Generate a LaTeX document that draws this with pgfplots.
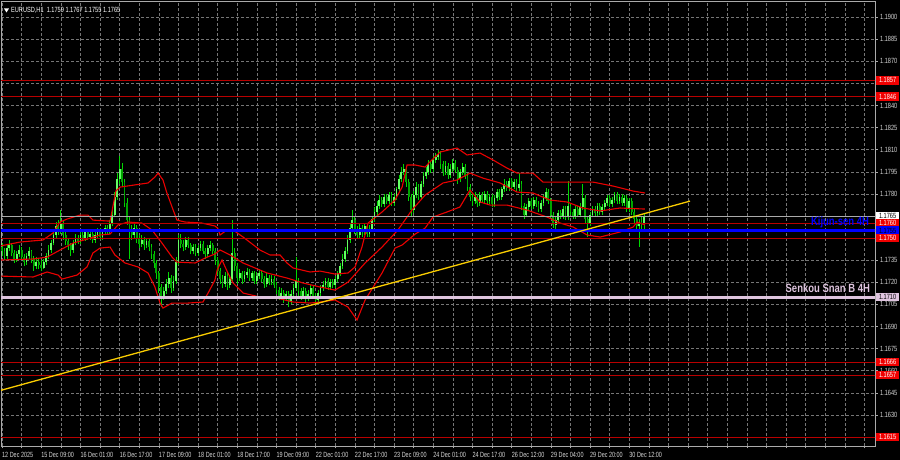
\documentclass[border=0pt]{standalone}
\usepackage{fontspec}
\setmainfont{Liberation Sans}
\usepackage{pgfplots}
\usepackage{pgfplotstable}
\pgfplotsset{compat=1.18}
\definecolor{gridc}{RGB}{118,118,118}
\definecolor{framec}{RGB}{170,170,170}
\definecolor{labc}{RGB}{215,215,215}
\definecolor{wickc}{RGB}{0,215,0}
\definecolor{bullc}{RGB}{100,255,100}
\definecolor{bearc}{RGB}{0,165,0}
\definecolor{bandc}{RGB}{235,0,0}
\definecolor{lvred}{RGB}{185,0,0}
\definecolor{boxred}{RGB}{240,0,0}
\definecolor{kijun}{RGB}{0,0,255}
\definecolor{senkou}{RGB}{222,196,222}
\definecolor{lvgray}{RGB}{170,170,170}
\definecolor{trendc}{RGB}{250,205,0}
\newcommand\ticfont{\fontsize{7.5}{8}\selectfont}

\pgfplotstableread{
i o h l c
0 1.1744 1.1747 1.1738 1.1741
1 1.1741 1.1743 1.1735 1.1738
2 1.1738 1.1745 1.1736 1.1743
3 1.1743 1.1749 1.1741 1.1745
4 1.1745 1.1747 1.1738 1.1740
5 1.1740 1.1742 1.1733 1.1736
6 1.1736 1.1741 1.1734 1.1739
7 1.1739 1.1745 1.1737 1.1742
8 1.1742 1.1744 1.1735 1.1737
9 1.1737 1.1739 1.1731 1.1734
10 1.1734 1.1740 1.1732 1.1738
11 1.1738 1.1744 1.1736 1.1741
12 1.1741 1.1742 1.1733 1.1736
13 1.1736 1.1738 1.1728 1.1731
14 1.1731 1.1737 1.1729 1.1734
15 1.1734 1.1736 1.1729 1.1732
16 1.1732 1.1735 1.1728 1.1730
17 1.1730 1.1736 1.1729 1.1734
18 1.1734 1.1740 1.1732 1.1738
19 1.1738 1.1745 1.1736 1.1742
20 1.1742 1.1749 1.1740 1.1747
21 1.1747 1.1755 1.1745 1.1752
22 1.1752 1.1761 1.1750 1.1758
23 1.1758 1.1762 1.1752 1.1755
24 1.1755 1.1769 1.1753 1.1760
25 1.1760 1.1762 1.1749 1.1752
26 1.1752 1.1754 1.1745 1.1748
27 1.1748 1.1750 1.1742 1.1745
28 1.1745 1.1747 1.1738 1.1742
29 1.1742 1.1749 1.1740 1.1747
30 1.1747 1.1753 1.1745 1.1750
31 1.1750 1.1752 1.1746 1.1748
32 1.1748 1.1754 1.1746 1.1752
33 1.1752 1.1755 1.1748 1.1750
34 1.1750 1.1756 1.1748 1.1754
35 1.1754 1.1756 1.1749 1.1751
36 1.1751 1.1755 1.1749 1.1753
37 1.1753 1.1755 1.1747 1.1749
38 1.1749 1.1754 1.1747 1.1752
39 1.1752 1.1757 1.1750 1.1755
40 1.1755 1.1757 1.1749 1.1751
41 1.1751 1.1756 1.1749 1.1754
42 1.1754 1.1759 1.1752 1.1757
43 1.1757 1.1759 1.1752 1.1755
44 1.1755 1.1762 1.1753 1.1760
45 1.1760 1.1769 1.1758 1.1766
46 1.1766 1.1781 1.1764 1.1778
47 1.1778 1.1794 1.1776 1.1790
48 1.1790 1.1806 1.1787 1.1797
49 1.1797 1.1801 1.1785 1.1788
50 1.1788 1.1790 1.1771 1.1774
51 1.1774 1.1777 1.1759 1.1762
52 1.1762 1.1765 1.1736 1.1756
53 1.1756 1.1759 1.1749 1.1752
54 1.1752 1.1760 1.1750 1.1757
55 1.1757 1.1759 1.1747 1.1750
56 1.1750 1.1752 1.1743 1.1746
57 1.1746 1.1752 1.1744 1.1749
58 1.1749 1.1751 1.1742 1.1745
59 1.1745 1.1750 1.1743 1.1748
60 1.1748 1.1750 1.1741 1.1744
61 1.1744 1.1746 1.1736 1.1739
62 1.1739 1.1741 1.1730 1.1733
63 1.1733 1.1735 1.1722 1.1726
64 1.1726 1.1728 1.1713 1.1717
65 1.1717 1.1719 1.1703 1.1711
66 1.1711 1.1717 1.1708 1.1714
67 1.1714 1.1722 1.1712 1.1719
68 1.1719 1.1727 1.1716 1.1723
69 1.1723 1.1725 1.1713 1.1716
70 1.1716 1.1724 1.1714 1.1721
71 1.1721 1.1737 1.1719 1.1734
72 1.1734 1.1752 1.1732 1.1749
73 1.1749 1.1753 1.1743 1.1746
74 1.1746 1.1749 1.1741 1.1744
75 1.1744 1.1751 1.1742 1.1749
76 1.1749 1.1751 1.1743 1.1745
77 1.1745 1.1747 1.1739 1.1741
78 1.1741 1.1746 1.1739 1.1744
79 1.1744 1.1746 1.1738 1.1740
80 1.1740 1.1745 1.1738 1.1743
81 1.1743 1.1748 1.1741 1.1746
82 1.1746 1.1748 1.1739 1.1741
83 1.1741 1.1743 1.1736 1.1739
84 1.1739 1.1745 1.1737 1.1743
85 1.1743 1.1748 1.1741 1.1745
86 1.1745 1.1747 1.1739 1.1741
87 1.1741 1.1743 1.1732 1.1735
88 1.1735 1.1737 1.1725 1.1728
89 1.1728 1.1730 1.1719 1.1722
90 1.1722 1.1725 1.1716 1.1719
91 1.1719 1.1727 1.1717 1.1724
92 1.1724 1.1726 1.1715 1.1718
93 1.1718 1.1725 1.1716 1.1722
94 1.1722 1.1762 1.1720 1.1740
95 1.1740 1.1743 1.1728 1.1731
96 1.1731 1.1733 1.1719 1.1723
97 1.1723 1.1729 1.1721 1.1726
98 1.1726 1.1728 1.1719 1.1722
99 1.1722 1.1728 1.1720 1.1725
100 1.1725 1.1730 1.1723 1.1727
101 1.1727 1.1729 1.1721 1.1723
102 1.1723 1.1728 1.1721 1.1726
103 1.1726 1.1728 1.1719 1.1721
104 1.1721 1.1727 1.1719 1.1724
105 1.1724 1.1729 1.1722 1.1726
106 1.1726 1.1728 1.1720 1.1722
107 1.1722 1.1724 1.1716 1.1719
108 1.1719 1.1726 1.1717 1.1723
109 1.1723 1.1725 1.1718 1.1720
110 1.1720 1.1725 1.1718 1.1722
111 1.1722 1.1724 1.1716 1.1718
112 1.1718 1.1720 1.1712 1.1715
113 1.1715 1.1717 1.1708 1.1711
114 1.1711 1.1716 1.1709 1.1713
115 1.1713 1.1715 1.1706 1.1709
116 1.1709 1.1714 1.1707 1.1712
117 1.1712 1.1714 1.1703 1.1707
118 1.1707 1.1715 1.1705 1.1712
119 1.1712 1.1719 1.1710 1.1716
120 1.1716 1.1737 1.1714 1.1721
121 1.1721 1.1723 1.1711 1.1714
122 1.1714 1.1716 1.1708 1.1711
123 1.1711 1.1717 1.1709 1.1714
124 1.1714 1.1716 1.1706 1.1709
125 1.1709 1.1715 1.1707 1.1712
126 1.1712 1.1718 1.1710 1.1716
127 1.1716 1.1718 1.1709 1.1711
128 1.1711 1.1713 1.1705 1.1708
129 1.1708 1.1715 1.1706 1.1713
130 1.1713 1.1718 1.1711 1.1716
131 1.1716 1.1721 1.1714 1.1718
132 1.1718 1.1723 1.1716 1.1721
133 1.1721 1.1723 1.1715 1.1717
134 1.1717 1.1722 1.1715 1.1720
135 1.1720 1.1722 1.1716 1.1718
136 1.1718 1.1724 1.1716 1.1722
137 1.1722 1.1728 1.1720 1.1726
138 1.1726 1.1733 1.1724 1.1731
139 1.1731 1.1739 1.1729 1.1736
140 1.1736 1.1744 1.1734 1.1741
141 1.1741 1.1752 1.1739 1.1749
142 1.1749 1.1760 1.1747 1.1757
143 1.1757 1.1769 1.1755 1.1762
144 1.1762 1.1764 1.1753 1.1756
145 1.1756 1.1758 1.1750 1.1752
146 1.1752 1.1760 1.1750 1.1757
147 1.1757 1.1759 1.1751 1.1754
148 1.1754 1.1760 1.1752 1.1758
149 1.1758 1.1760 1.1751 1.1753
150 1.1753 1.1759 1.1751 1.1756
151 1.1756 1.1765 1.1754 1.1763
152 1.1763 1.1771 1.1761 1.1768
153 1.1768 1.1775 1.1766 1.1772
154 1.1772 1.1779 1.1770 1.1776
155 1.1776 1.1778 1.1771 1.1773
156 1.1773 1.1780 1.1771 1.1778
157 1.1778 1.1780 1.1773 1.1775
158 1.1775 1.1781 1.1773 1.1779
159 1.1779 1.1781 1.1772 1.1774
160 1.1774 1.1780 1.1772 1.1778
161 1.1778 1.1785 1.1776 1.1783
162 1.1783 1.1793 1.1781 1.1790
163 1.1790 1.1798 1.1788 1.1795
164 1.1795 1.1800 1.1793 1.1797
165 1.1797 1.1799 1.1785 1.1788
166 1.1788 1.1790 1.1775 1.1778
167 1.1778 1.1780 1.1764 1.1769
168 1.1769 1.1782 1.1767 1.1779
169 1.1779 1.1788 1.1777 1.1785
170 1.1785 1.1787 1.1776 1.1778
171 1.1778 1.1789 1.1776 1.1787
172 1.1787 1.1795 1.1785 1.1792
173 1.1792 1.1798 1.1790 1.1795
174 1.1795 1.1803 1.1793 1.1800
175 1.1800 1.1802 1.1794 1.1797
176 1.1797 1.1806 1.1795 1.1803
177 1.1803 1.1808 1.1801 1.1805
178 1.1805 1.1810 1.1803 1.1807
179 1.1807 1.1809 1.1797 1.1800
180 1.1800 1.1802 1.1792 1.1795
181 1.1795 1.1802 1.1793 1.1799
182 1.1799 1.1801 1.1790 1.1793
183 1.1793 1.1800 1.1791 1.1797
184 1.1797 1.1804 1.1795 1.1801
185 1.1801 1.1803 1.1794 1.1796
186 1.1796 1.1798 1.1787 1.1790
187 1.1790 1.1797 1.1788 1.1795
188 1.1795 1.1801 1.1793 1.1798
189 1.1798 1.1800 1.1790 1.1792
190 1.1792 1.1794 1.1782 1.1785
191 1.1785 1.1787 1.1775 1.1778
192 1.1778 1.1780 1.1772 1.1775
193 1.1775 1.1781 1.1773 1.1778
194 1.1778 1.1780 1.1771 1.1774
195 1.1774 1.1781 1.1772 1.1779
196 1.1779 1.1781 1.1774 1.1776
197 1.1776 1.1782 1.1774 1.1780
198 1.1780 1.1782 1.1773 1.1775
199 1.1775 1.1780 1.1773 1.1778
200 1.1778 1.1780 1.1771 1.1773
201 1.1773 1.1779 1.1771 1.1777
202 1.1777 1.1783 1.1775 1.1781
203 1.1781 1.1783 1.1776 1.1778
204 1.1778 1.1785 1.1776 1.1783
205 1.1783 1.1790 1.1781 1.1787
206 1.1787 1.1789 1.1782 1.1784
207 1.1784 1.1791 1.1782 1.1789
208 1.1789 1.1791 1.1783 1.1785
209 1.1785 1.1790 1.1783 1.1788
210 1.1788 1.1790 1.1782 1.1784
211 1.1784 1.1794 1.1782 1.1787
212 1.1787 1.1789 1.1769 1.1772
213 1.1772 1.1774 1.1763 1.1766
214 1.1766 1.1773 1.1764 1.1771
215 1.1771 1.1777 1.1769 1.1775
216 1.1775 1.1777 1.1770 1.1772
217 1.1772 1.1778 1.1770 1.1776
218 1.1776 1.1778 1.1771 1.1773
219 1.1773 1.1775 1.1768 1.1770
220 1.1770 1.1776 1.1768 1.1774
221 1.1774 1.1779 1.1772 1.1777
222 1.1777 1.1784 1.1775 1.1781
223 1.1781 1.1783 1.1773 1.1775
224 1.1775 1.1777 1.1763 1.1766
225 1.1766 1.1768 1.1757 1.1759
226 1.1759 1.1764 1.1755 1.1762
227 1.1762 1.1769 1.1760 1.1767
228 1.1767 1.1769 1.1763 1.1765
229 1.1765 1.1772 1.1763 1.1770
230 1.1770 1.1772 1.1762 1.1764
231 1.1764 1.1789 1.1762 1.1772
232 1.1772 1.1774 1.1766 1.1768
233 1.1768 1.1770 1.1763 1.1765
234 1.1765 1.1772 1.1763 1.1770
235 1.1770 1.1772 1.1764 1.1766
236 1.1766 1.1774 1.1764 1.1771
237 1.1771 1.1787 1.1769 1.1777
238 1.1777 1.1779 1.1760 1.1763
239 1.1763 1.1765 1.1751 1.1760
240 1.1760 1.1768 1.1758 1.1766
241 1.1766 1.1772 1.1764 1.1770
242 1.1770 1.1772 1.1765 1.1767
243 1.1767 1.1774 1.1765 1.1772
244 1.1772 1.1774 1.1766 1.1768
245 1.1768 1.1773 1.1766 1.1771
246 1.1771 1.1776 1.1769 1.1774
247 1.1774 1.1779 1.1772 1.1777
248 1.1777 1.1779 1.1771 1.1773
249 1.1773 1.1778 1.1771 1.1776
250 1.1776 1.1781 1.1774 1.1779
251 1.1779 1.1781 1.1773 1.1775
252 1.1775 1.1780 1.1773 1.1778
253 1.1778 1.1780 1.1772 1.1774
254 1.1774 1.1779 1.1772 1.1777
255 1.1777 1.1779 1.1768 1.1770
256 1.1770 1.1777 1.1768 1.1775
257 1.1775 1.1777 1.1766 1.1768
258 1.1768 1.1770 1.1760 1.1763
259 1.1763 1.1765 1.1756 1.1758
260 1.1758 1.1763 1.1744 1.1761
261 1.1761 1.1764 1.1756 1.1759
262 1.1759 1.1767 1.1755 1.1765
}\candles

\pgfplotstableread{
i p
-0.8 1.17446
7.3 1.17473
16.7 1.17487
20.8 1.17534
23.7 1.17609
26.5 1.17629
31.8 1.17656
35.1 1.17656
37.1 1.17622
44.1 1.17615
46.5 1.17820
48.2 1.17846
59.6 1.17874
62.4 1.17914
63.7 1.17941
65.7 1.17894
67.3 1.17806
69.4 1.17711
71.4 1.17622
74.7 1.17609
81.6 1.17602
86.9 1.17582
88.0 1.17568
89.0 1.17521
91.8 1.17555
94.3 1.17555
98.4 1.17507
105.3 1.17419
109.4 1.17385
113.5 1.17385
116.3 1.17331
118.8 1.17297
125.7 1.17270
129.8 1.17276
135.9 1.17256
141.2 1.17263
144.1 1.17304
146.9 1.17439
149.4 1.17602
155.1 1.17677
160.4 1.17758
163.3 1.17846
165.3 1.17996
168.6 1.17996
172.7 1.17982
175.0 1.18023
178.8 1.18084
185.7 1.18111
189.8 1.18064
195.1 1.18077
200.4 1.18030
206.1 1.17975
210.2 1.17941
216.7 1.17941
220.8 1.17880
230.6 1.17880
241.2 1.17880
249.4 1.17853
257.6 1.17819
262.4 1.17806
}\bbup

\pgfplotstableread{
i p
-0.8 1.17351
12.7 1.17358
18.4 1.17371
23.7 1.17419
29.0 1.17466
34.7 1.17493
40.0 1.17521
44.1 1.17527
47.3 1.17589
51.4 1.17609
57.1 1.17602
61.2 1.17555
65.3 1.17466
69.4 1.17371
71.4 1.17337
78.8 1.17331
82.9 1.17365
86.9 1.17392
89.0 1.17419
93.1 1.17385
98.4 1.17331
108.2 1.17263
116.3 1.17229
122.9 1.17195
129.8 1.17168
135.9 1.17147
141.2 1.17201
148.2 1.17331
155.1 1.17439
161.6 1.17555
167.3 1.17690
172.7 1.17792
180.0 1.17874
185.7 1.17894
191.0 1.17941
196.3 1.17907
203.3 1.17874
210.2 1.17812
216.7 1.17806
223.7 1.17758
230.6 1.17745
237.1 1.17704
244.1 1.17684
252.2 1.17704
262.4 1.17697
}\bbmid

\pgfplotstableread{
i p
-0.8 1.17242
12.7 1.17236
18.4 1.17270
22.9 1.17249
24.5 1.17222
30.6 1.17249
34.7 1.17304
37.1 1.17399
40.0 1.17432
44.1 1.17439
46.1 1.17385
50.2 1.17331
55.5 1.17304
59.6 1.17263
62.4 1.17168
64.5 1.17059
65.7 1.17025
69.4 1.17059
75.9 1.17059
82.0 1.17066
84.1 1.17127
86.9 1.17215
87.8 1.17283
89.8 1.17351
92.2 1.17263
94.3 1.17195
98.4 1.17127
105.3 1.17100
112.2 1.17093
118.8 1.17066
125.7 1.17059
129.8 1.17066
135.9 1.17080
141.2 1.17032
144.9 1.16944
148.2 1.17080
155.1 1.17263
160.4 1.17432
163.3 1.17453
168.6 1.17527
172.7 1.17568
175.9 1.17643
181.6 1.17677
186.9 1.17711
191.0 1.17826
195.1 1.17745
199.2 1.17724
206.1 1.17724
214.3 1.17690
222.4 1.17643
227.8 1.17602
233.1 1.17575
238.8 1.17521
244.1 1.17507
252.2 1.17541
257.6 1.17575
259.2 1.17609
262.4 1.17589
}\bblow

\begin{document}
\begin{tikzpicture}[x=1pt,y=1pt]
\fill[black] (0,0) rectangle (900,460);
\begin{axis}[
  at={(1pt,14pt)}, anchor=south west, scale only axis,
  width=874pt, height=445pt,
  xmin=-0.41, xmax=356.3, ymin=1.16089, ymax=1.19109,
  axis line style={framec, line width=0.6pt},
  xtick={0,8,...,352},
  xticklabels={12 Dec 2025,,15 Dec 09:00,,16 Dec 01:00,,16 Dec 17:00,,17 Dec 09:00,,18 Dec 01:00,,18 Dec 17:00,,19 Dec 09:00,,22 Dec 01:00,,22 Dec 17:00,,23 Dec 09:00,,24 Dec 01:00,,24 Dec 17:00,,26 Dec 12:00,,29 Dec 04:00,,29 Dec 20:00,,30 Dec 12:00,{},{},{},{},{},{},{},{},{},{},{},{}},
  ytick={1.1615,1.1630,1.1645,1.1660,1.1675,1.1690,1.1705,1.1720,1.1735,1.1750,1.1765,1.1780,1.1795,1.1810,1.1825,1.1840,1.1855,1.1870,1.1885,1.1900},
  xtick pos=left, ytick pos=right,
  tick align=outside, major tick length=2.5pt,
  tick style={framec, line width=0.5pt},
  grid=major,
  grid style={gridc, line width=0.5pt, dash pattern=on 2.5pt off 2.5pt},
  scaled y ticks=false,
  /pgf/number format/fixed, /pgf/number format/fixed zerofill,
  /pgf/number format/precision=4, /pgf/number format/assume math mode=true,
  yticklabel style={anchor=west, inner sep=0pt, xshift=2.5pt, font=\ticfont, text=labc, xscale=0.75},
  xticklabel style={anchor=north west, inner sep=0pt, yshift=-3.5pt, font=\ticfont, text=labc, xscale=0.73},
  clip=true,
]
% candle wicks
\addplot[draw=none, mark=none, forget plot,
  error bars/.cd, y dir=plus, y explicit, error mark=none,
  error bar style={draw=wickc, line width=0.75pt}]
  table[x=i, y=l, y error expr=\thisrow{h}-\thisrow{l}] {\candles};
% bull bodies
\addplot[draw=none, mark=none, forget plot,
  error bars/.cd, y dir=plus, y explicit, error mark=none,
  error bar style={draw=bullc, line width=1.8pt}]
  table[x=i, y=o, y error expr={max(\thisrow{c}-\thisrow{o},0)}] {\candles};
% bear bodies
\addplot[draw=none, mark=none, forget plot,
  error bars/.cd, y dir=plus, y explicit, error mark=none,
  error bar style={draw=bearc, line width=1.8pt}]
  table[x=i, y=c, y error expr={max(\thisrow{o}-\thisrow{c},0)}] {\candles};
% Bollinger bands
\addplot[bandc, line width=1.1pt, forget plot] table[x=i, y=p] {\bbup};
\addplot[bandc, line width=1.1pt, forget plot] table[x=i, y=p] {\bbmid};
\addplot[bandc, line width=1.1pt, forget plot] table[x=i, y=p] {\bblow};
% levels
\addplot[lvred, line width=0.6pt, forget plot] coordinates {(-5,1.1857) (360,1.1857)};
\addplot[lvred, line width=0.6pt, forget plot] coordinates {(-5,1.1846) (360,1.1846)};
\addplot[lvgray, line width=0.6pt, forget plot] coordinates {(-5,1.1765) (360,1.1765)};
\addplot[lvred, line width=0.6pt, forget plot] coordinates {(-5,1.1760) (360,1.1760)};
\addplot[kijun, line width=3pt, forget plot] coordinates {(-5,1.1755) (360,1.1755)};
\addplot[lvred, line width=0.6pt, forget plot] coordinates {(-5,1.1750) (360,1.1750)};
\addplot[senkou, line width=3pt, forget plot] coordinates {(-5,1.1710) (360,1.1710)};
\addplot[lvred, line width=0.6pt, forget plot] coordinates {(-5,1.1666) (360,1.1666)};
\addplot[lvred, line width=0.6pt, forget plot] coordinates {(-5,1.1657) (360,1.1657)};
\addplot[lvred, line width=0.6pt, forget plot] coordinates {(-5,1.1615) (360,1.1615)};
% trend line
\addplot[trendc, line width=1.3pt, forget plot] coordinates {(-0.41,1.16467) (280.8,1.17751)};
\node[anchor=east, inner sep=0pt, text=kijun, font=\bfseries\fontsize{12}{12}\selectfont, xscale=0.79] at (axis cs:353.9,1.17609) {Kijun-sen 4H};
\node[anchor=east, inner sep=0pt, text=senkou, font=\bfseries\fontsize{12}{12}\selectfont, xscale=0.79] at (axis cs:354.3,1.17161) {Senkou Snan B 4H};
\coordinate (Y1857) at (axis cs:0,1.1857);
\coordinate (Y1846) at (axis cs:0,1.1846);
\coordinate (Y1765) at (axis cs:0,1.1765);
\coordinate (Y1760) at (axis cs:0,1.1760);
\coordinate (Y1755) at (axis cs:0,1.1755);
\coordinate (Y1750) at (axis cs:0,1.1750);
\coordinate (Y1710) at (axis cs:0,1.1710);
\coordinate (Y1666) at (axis cs:0,1.1666);
\coordinate (Y1657) at (axis cs:0,1.1657);
\coordinate (Y1615) at (axis cs:0,1.1615);
\end{axis}
\coordinate (RX) at (876,0);
\tikzset{pbox/.style={anchor=west, inner xsep=3.8pt, inner ysep=0pt, minimum height=8.5pt, font=\ticfont, xscale=0.75}}
\node[pbox, fill=boxred, text=white] at (RX |- Y1857) {1.1857};
\node[pbox, fill=boxred, text=white] at (RX |- Y1846) {1.1846};
\node[pbox, fill=white, text=black] at (RX |- Y1765) {1.1765};
\node[pbox, fill=boxred, text=white] at (RX |- Y1760) {1.1760};
\node[pbox, fill=kijun, text=black] at (RX |- Y1755) {1.1755};
\node[pbox, fill=boxred, text=white] at (RX |- Y1750) {1.1750};
\node[pbox, fill=senkou, text=black] at (RX |- Y1710) {1.1710};
\node[pbox, fill=boxred, text=white] at (RX |- Y1666) {1.1666};
\node[pbox, fill=boxred, text=white] at (RX |- Y1657) {1.1657};
\node[pbox, fill=boxred, text=white] at (RX |- Y1615) {1.1615};
% title
\fill[white] (4,451.5) -- (9,451.5) -- (6.5,447.5) -- cycle;
\node[anchor=west, inner sep=0pt, text=white, font=\ticfont, xscale=0.75] at (11,449.5) {EURUSD,H1\ \ 1.1759 1.1767 1.1755 1.1765};
\end{tikzpicture}
\end{document}
